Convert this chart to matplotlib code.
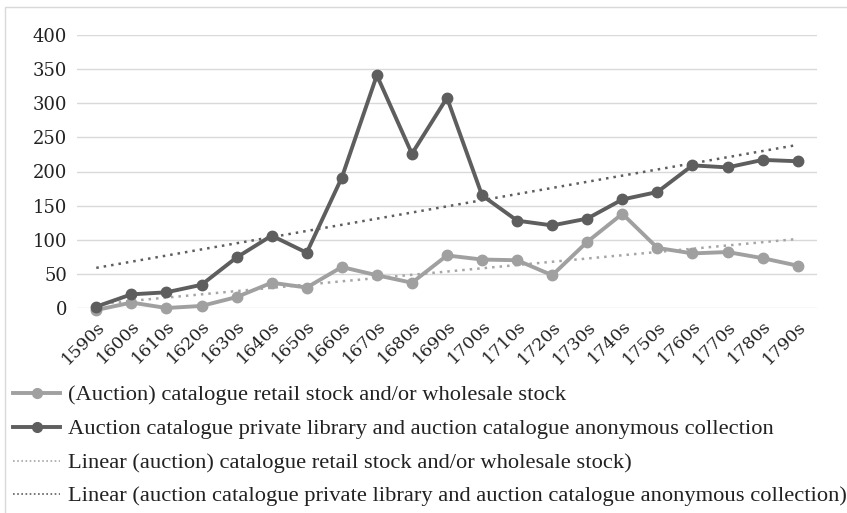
import matplotlib
matplotlib.use("Agg")
import matplotlib.pyplot as plt
import numpy as np
from matplotlib.patches import Rectangle
from matplotlib.lines import Line2D

categories = ["1590s", "1600s", "1610s", "1620s", "1630s", "1640s", "1650s", "1660s",
              "1670s", "1680s", "1690s", "1700s", "1710s", "1720s", "1730s", "1740s",
              "1750s", "1760s", "1770s", "1780s", "1790s"]
retail = [-3, 8, 0, 3, 16, 37, 30, 60, 48, 37, 77, 71, 70, 48, 97, 138, 88, 80, 82, 73, 62]
private = [2, 20, 23, 34, 74, 106, 81, 191, 341, 226, 308, 165, 128, 121, 131, 159, 170, 209, 206, 217, 215]
yticks = [0, 50, 100, 150, 200, 250, 300, 350, 400]

labels = ["(Auction) catalogue retail stock and/or wholesale stock",
          "Auction catalogue private library and auction catalogue anonymous collection",
          "Linear (auction) catalogue retail stock and/or wholesale stock)",
          "Linear (auction catalogue private library and auction catalogue anonymous collection)"]

W, H = 847, 513
fig = plt.figure(figsize=(W / 100, H / 100), dpi=100)
fig.patches.append(Rectangle((4.5 / W, -0.01), 1.02 - 4.5 / W, 1.01 - 7 / H, transform=fig.transFigure,
                             fill=False, edgecolor="#d9d9d9", linewidth=1.0))

left, right, top, bottom = 77, 817, 35, 308
ax = fig.add_axes([left / W, 1 - bottom / H, (right - left) / W, (bottom - top) / H])

x = np.arange(len(categories))
light = "#a0a0a0"
dark = "#5e5e5e"
tlight = "#a6a6a6"
tdark = "#5e5e5e"

for v in yticks:
    ax.axhline(v, color="#d9d9d9", linewidth=1.0, zorder=0)

# trend lines (least-squares fits of the series)
for data, col in [(retail, tlight), (private, tdark)]:
    k, b = np.polyfit(x, data, 1)
    ax.plot(x, k * x + b, linestyle=(0, (1, 2)), color=col, linewidth=1.8, zorder=2)

ax.plot(x, retail, color=light, linewidth=2.8, marker="o", markersize=7.5, zorder=3, clip_on=False)
ax.plot(x, private, color=dark, linewidth=2.8, marker="o", markersize=7.5, zorder=4, clip_on=False)

ax.set_xlim(-0.55, len(categories) - 0.45)
ax.set_ylim(0, 400)
ax.set_yticks(yticks)
ax.set_yticklabels([str(v) for v in yticks], fontsize=13, family="DejaVu Serif", color="#222222")
ax.set_xticks(x)
ax.set_xticklabels(categories, rotation=45, ha="right", va="top", rotation_mode="anchor",
                   fontsize=12.5, family="DejaVu Serif", color="#222222")
ax.tick_params(axis="y", length=0, pad=7)
ax.tick_params(axis="x", length=0, pad=7)
for s in ax.spines.values():
    s.set_visible(False)

# legend drawn manually below the chart
handle_styles = [dict(color=light, linewidth=2.8, marker="o", markersize=7),
                 dict(color=dark, linewidth=2.8, marker="o", markersize=7),
                 dict(color=tlight, linestyle=(0, (1, 1.5)), linewidth=1.2),
                 dict(color=tdark, linestyle=(0, (1, 1.5)), linewidth=1.2)]
row_y = [393, 427, 460.5, 494]
texts = []
for lab, st, yy in zip(labels, handle_styles, row_y):
    yf = 1 - yy / H
    if "marker" in st:
        ln = Line2D([13 / W, 37 / W, 60 / W], [yf, yf, yf], transform=fig.transFigure,
                    markevery=[1], **st)
    else:
        ln = Line2D([13 / W, 60 / W], [yf, yf], transform=fig.transFigure, **st)
    fig.lines.append(ln)
    t = fig.text(68 / W, yf, lab, ha="left", va="center_baseline",
                 family="Liberation Serif", fontsize=16, color="#222222")
    texts.append(t)

# fit the legend font so the longest entry spans the same width as the reference
fig.canvas.draw()
r = fig.canvas.get_renderer()
wmax = max(t.get_window_extent(r).width for t in texts)
target = 845 - 68
for t in texts:
    t.set_fontsize(16 * target / wmax)

fig.savefig("out.png", dpi=100)
